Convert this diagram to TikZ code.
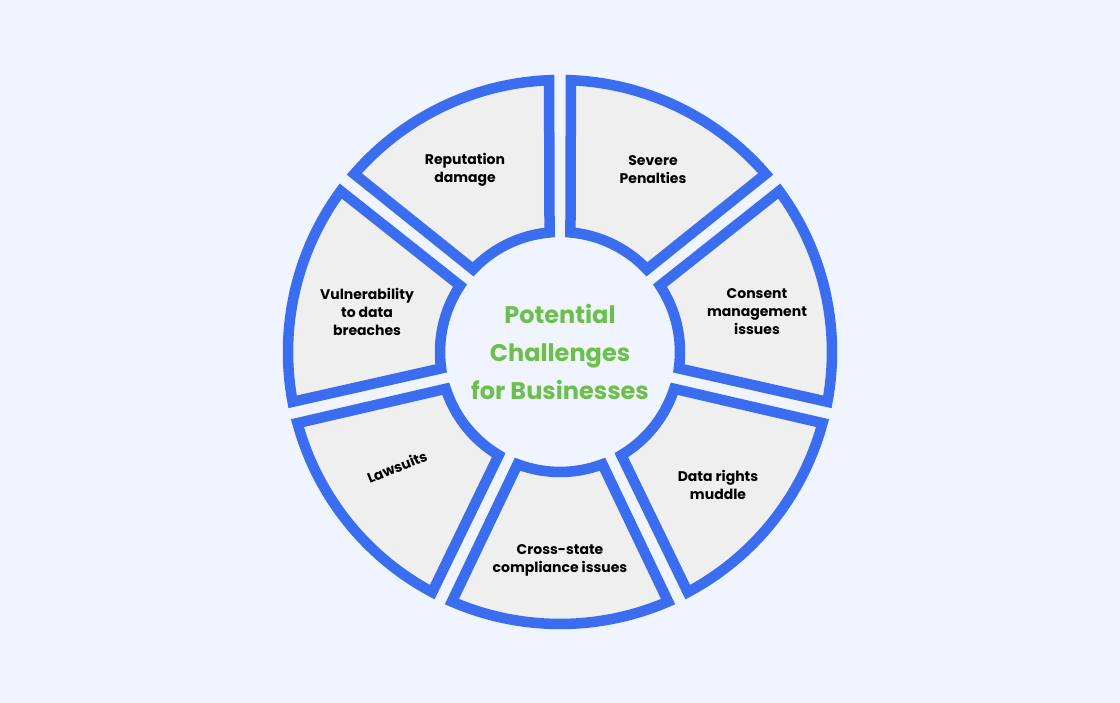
\documentclass[tikz,border=0pt]{standalone}
\usepackage{fontspec}
\setmainfont{Poppins}
\usetikzlibrary{calc}
\definecolor{bg}{HTML}{EFF4FE}
\definecolor{ringblue}{HTML}{3A6DF0}
\definecolor{title}{HTML}{6CBF4A}
\definecolor{segfill}{HTML}{EFEFEF}
\begin{document}
\begin{tikzpicture}[x=1pt,y=1pt,
  seg/.style={draw=ringblue,line width=10.5pt,fill=segfill,line join=miter},
  lab/.style={font=\bfseries\fontsize{14}{18}\selectfont,align=center,text=black}]
\fill[bg] (0,0) rectangle (1120,703);
\useasboundingbox (0,0) rectangle (1120,703);
\coordinate (c) at (560,351);
\foreach \i in {0,...,6}{
  \pgfmathsetmacro{\a}{90-51.4286*(\i+1)+2.3}
  \pgfmathsetmacro{\b}{90-51.4286*\i-2.3}
  \pgfmathsetmacro{\ai}{90-51.4286*(\i+1)+5}
  \pgfmathsetmacro{\bi}{90-51.4286*\i-5}
  \draw[seg] ($(c)+(\a:272)$) arc[start angle=\a,end angle=\b,radius=272]
     -- ($(c)+(\bi:120)$) arc[start angle=\bi,end angle=\ai,radius=120] -- cycle;
}
\node[lab] (severe) at (653,533) {Severe\\Penalties};
\node[lab] (consent) at (757,391) {Consent\\management\\issues};
\node[lab] (rights) at (718,218) {Data rights\\muddle};
\node[lab] (cross) at (560,143) {Cross-state\\compliance issues};
\node[lab,rotate=22,inner sep=0pt] (law) at (397,236) {Lawsuits};
\node[lab] (vuln) at (367,391) {Vulnerability\\to data\\breaches};
\node[lab] (rep) at (465,533) {Reputation\\damage};
\node[font=\bfseries\fontsize{24}{38}\selectfont,align=center,text=title] (t) at (c) {Potential\\Challenges\\for Businesses};
\end{tikzpicture}
\end{document}
